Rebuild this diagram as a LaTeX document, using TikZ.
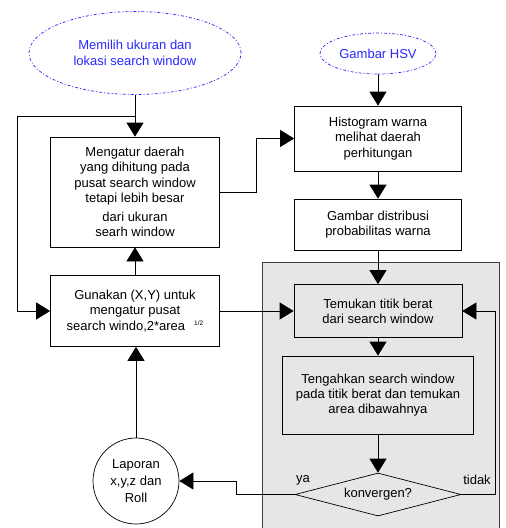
\documentclass[tikz,border=0pt]{standalone}
\usepackage{fontspec}
\setmainfont{Liberation Sans}
\usetikzlibrary{arrows.meta,positioning,calc,shapes.geometric}
\definecolor{inb}{HTML}{2828FF}
\definecolor{grpf}{HTML}{E6E6E6}
\definecolor{grpb}{HTML}{404040}

\begin{document}
\begin{tikzpicture}[x=1pt,y=-1pt,
  font=\fontsize{13}{15.3}\selectfont,
  proc/.style={draw,align=center,inner sep=2pt,line width=0.7pt},
  src/.style={ellipse,draw=inb,text=inb,dash pattern=on 3pt off 2pt on 1pt off 2pt,align=center,inner sep=0pt,line width=0.7pt},
  arr/.style={-{Triangle[length=14pt,width=17pt]},line width=0.7pt},
  ln/.style={line width=0.7pt}]
\useasboundingbox (0,0) rectangle (506,528);
% loop region
\fill[grpf] (262,262) rectangle (499,540);
\draw[grpb,ln] (262,540) -- (262,262) -- (499,262) -- (499,540);
% left column
\node[src,minimum width=212,minimum height=83] (E1) at (135,53) {Memilih ukuran dan\\lokasi search window};
\node[proc,minimum width=169,minimum height=110] (M) at (135,192) {Mengatur daerah\\yang dihitung pada\\pusat search window\\tetapi lebih besar\\[4pt]dari ukuran\\searh window};
\node[proc,minimum width=169,minimum height=71] (G) at (135,311) {Gunakan (X,Y) untuk\\mengatur pusat\\search windo,2*area\hspace{9pt}\raisebox{5pt}{\fontsize{6.5}{7}\selectfont 1/2}};
\node[circle,draw,ln,align=center,minimum size=86,inner sep=0pt] (C) at (136,481) {Laporan\\[2pt]x,y,z dan\\[2pt]Roll};
% right column
\node[src,minimum width=116,minimum height=41] (E2) at (378,53.5) {Gambar HSV};
\node[proc,minimum width=167,minimum height=65] (H) at (378,138.5) {Histogram warna\\melihat daerah\\perhitungan};
\node[proc,minimum width=167,minimum height=51] (P) at (378,224.5) {Gambar distribusi\\probabilitas warna};
\node[proc,minimum width=168,minimum height=53] (T) at (378,311) {Temukan titik berat\\dari search window};
\node[proc,minimum width=191,minimum height=78] (K) at (378,395) {Tengahkan search window\\pada titik berat dan temukan\\area dibawahnya};
\node[diamond,draw,ln,aspect=3.8,inner sep=0pt,minimum width=166,minimum height=43] (D) at (378,494.5) {konvergen?};
\node (ya) at (303,480) {ya};
\node (tidak) at (477,480) {tidak};
% connectors
\coordinate (j) at (135,116);
\draw[ln] (E1.south) -- (j);
\draw[arr] (j) -- (M.north);
\draw[arr] (j) -- ++(-118,0) |- (G.west);
\draw[arr] (G.north) -- (M.south);
\draw[arr] (C.north) -- (C.north |- G.south);
\draw[arr] (M.east) -- ++(36,0) |- (H.west);
\draw[arr] (G.east) -- (T.west);
\foreach \a/\b in {E2/H,H/P,P/T,T/K,K/D} \draw[arr] (\a.south) -- (\b.north);
\draw[arr] (D.east) -- ++(34,0) |- (T.east);
\draw[arr] (D.west) -- ++(-58,0) |- (C.east);
\end{tikzpicture}
\end{document}
